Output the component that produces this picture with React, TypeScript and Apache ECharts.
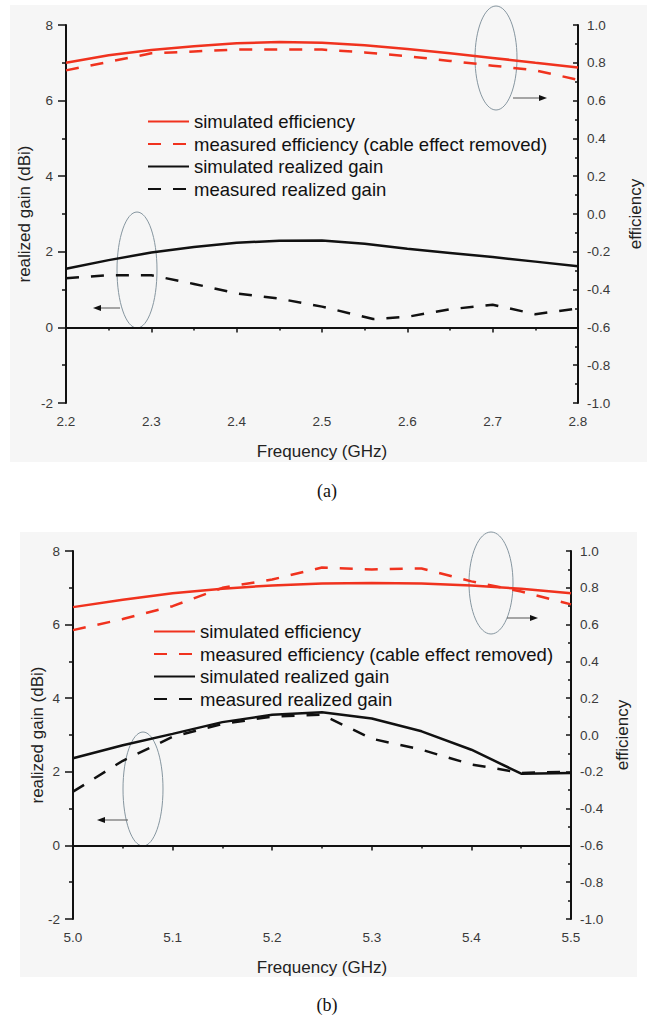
import React, { useEffect, useRef } from "react";
import * as echarts from "echarts";

// ---- data (a) ----
const freqA = [2.2, 2.25, 2.3, 2.35, 2.4, 2.45, 2.5, 2.55, 2.6, 2.65, 2.7, 2.75, 2.8];
const simEffA = [0.8, 0.84, 0.868, 0.888, 0.903, 0.91, 0.906, 0.893, 0.873, 0.85, 0.826, 0.8, 0.775];
const measEffA = [0.76, 0.805, 0.85, 0.86, 0.87, 0.87, 0.87, 0.855, 0.835, 0.81, 0.785, 0.76, 0.71];
const simGainA = [1.55, 1.78, 1.98, 2.13, 2.24, 2.29, 2.3, 2.21, 2.08, 1.97, 1.86, 1.74, 1.62];
const freqMeasGainA = [2.2, 2.25, 2.3, 2.35, 2.4, 2.45, 2.5, 2.56, 2.6, 2.65, 2.7, 2.75, 2.8];
const measGainA = [1.3, 1.38, 1.38, 1.15, 0.9, 0.76, 0.55, 0.22, 0.28, 0.48, 0.6, 0.35, 0.5];

// ---- data (b) ----
const freqB = [5.0, 5.05, 5.1, 5.15, 5.2, 5.25, 5.3, 5.35, 5.4, 5.45, 5.5];
const simEffB = [0.695, 0.735, 0.77, 0.795, 0.813, 0.823, 0.826, 0.824, 0.812, 0.795, 0.77];
const measEffB = [0.57, 0.63, 0.7, 0.8, 0.845, 0.91, 0.9, 0.905, 0.835, 0.78, 0.71];
const simGainB = [2.37, 2.72, 3.03, 3.35, 3.55, 3.62, 3.45, 3.1, 2.6, 1.95, 1.97];
const measGainB = [1.46, 2.3, 2.95, 3.3, 3.5, 3.55, 2.9, 2.6, 2.2, 1.97, 2.0];

const seriesNames = [
  "simulated efficiency",
  "measured efficiency (cable effect removed)",
  "simulated realized gain",
  "measured realized gain",
];
const gainTicks = { min: -2, max: 8, interval: 2 };
const effTicks = { min: -1, max: 1, interval: 0.2 };
const xRangeA = { min: 2.2, max: 2.8, interval: 0.1 };
const xRangeB = { min: 5.0, max: 5.5, interval: 0.1 };

const RED = "#f0321e";
const BLACK = "#111111";
const FONT = "'Liberation Sans', Arial, sans-serif";

const pair = (xs: number[], ys: number[]) => xs.map((x, i) => [x, ys[i]]);
const fmt1 = (v: number) => (Math.abs(v) < 1e-9 ? 0 : v).toFixed(1);

export default function App() {
  const ref = useRef<HTMLDivElement>(null);
  useEffect(() => {
    if (!ref.current) return;
    const chart = echarts.init(ref.current, null, { renderer: "svg" });

    const axisLine = { lineStyle: { color: BLACK, width: 2 } };
    const labelStyle = { fontSize: 13.5, color: "#3a3a3a", fontFamily: FONT };
    const nameStyle = { fontSize: 17, color: "#222", fontFamily: FONT };

    const mkX = (idx: number, r: any) => ({
      type: "value",
      gridIndex: idx,
      min: r.min,
      max: r.max,
      interval: r.interval,
      name: "Frequency (GHz)",
      nameLocation: "middle",
      nameGap: 40,
      nameMoveOverlap: false,
      nameTextStyle: nameStyle,
      axisLine,
      axisTick: { show: true, length: 5, lineStyle: { color: BLACK, width: 1.5 } },
      minorTick: { show: true, splitNumber: 2, length: 3, lineStyle: { color: BLACK, width: 1.5 } },
      axisLabel: { ...labelStyle, margin: 11, formatter: (v: number) => fmt1(v) },
      splitLine: { show: false },
    });
    const mkGain = (idx: number, gap: number) => ({
      type: "value",
      gridIndex: idx,
      position: "left",
      ...gainTicks,
      name: "realized gain (dBi)",
      nameLocation: "middle",
      nameGap: gap,
      nameMoveOverlap: false,
      nameTextStyle: nameStyle,
      axisLine: { ...axisLine, onZero: false },
      axisTick: { show: true, length: 8, lineStyle: { color: BLACK, width: 1.5 } },
      minorTick: { show: true, splitNumber: 2, length: 4, lineStyle: { color: BLACK, width: 1.5 } },
      axisLabel: { ...labelStyle, margin: 13 },
      splitLine: { show: false },
    });
    const mkEff = (idx: number, gap: number) => ({
      type: "value",
      gridIndex: idx,
      position: "right",
      ...effTicks,
      name: "efficiency",
      nameLocation: "middle",
      nameGap: gap,
      nameMoveOverlap: false,
      nameTextStyle: nameStyle,
      axisLine: { ...axisLine, onZero: false },
      axisTick: { show: true, inside: true, length: 5, lineStyle: { color: BLACK, width: 1.5 } },
      minorTick: { show: true, splitNumber: 2, length: 3, lineStyle: { color: BLACK, width: 1.5 } },
      axisLabel: { ...labelStyle, margin: 9, formatter: (v: number) => fmt1(v) },
      splitLine: { show: false },
    });

    const line = (name: string, xi: number, yi: number, data: number[][], color: string, dashed: boolean) => ({
      type: "line",
      name,
      xAxisIndex: xi,
      yAxisIndex: yi,
      data,
      symbol: "none",
      showSymbol: false,
      color,
      lineStyle: { color, width: 2.5, type: dashed ? [13, 12] : "solid" },
      clip: true,
    });

    const legend = (left: number, top: number) => ({
      orient: "vertical",
      left,
      top,
      padding: 0,
      itemWidth: 41,
      itemHeight: 14,
      itemGap: 3.5,
      selectedMode: false,
      data: seriesNames,
      itemStyle: { opacity: 0 },
      textStyle: { fontSize: 18.5, color: "#111", fontFamily: FONT },
    });

    const ellipse = (cx: number, cy: number, rx: number, ry: number) => ({
      type: "ellipse",
      shape: { cx, cy, rx, ry },
      style: { fill: "none", stroke: "#8696a0", lineWidth: 1 },
      silent: true,
    });
    const arrow = (x1: number, x2: number, y: number) => {
      const dir = x2 > x1 ? 1 : -1;
      return [
        { type: "line", shape: { x1, y1: y, x2: x2 - dir * 6, y2: y }, style: { stroke: "#555", lineWidth: 1 }, silent: true },
        {
          type: "polygon",
          shape: { points: [[x2, y], [x2 - dir * 8, y - 3], [x2 - dir * 8, y + 3]] },
          style: { fill: "#111" },
          silent: true,
        },
      ];
    };
    const caption = (text: string, x: number, y: number) => ({
      type: "text",
      x,
      y,
      style: {
        text,
        fontSize: 18,
        fontFamily: "'Liberation Serif', 'Times New Roman', serif",
        fill: "#111",
        textAlign: "center",
        textVerticalAlign: "middle",
      },
    });

    chart.setOption({
      animation: false,
      backgroundColor: "transparent",
      grid: [
        { left: 66, top: 25, width: 512, height: 378 },
        { left: 73, top: 551, width: 498, height: 368 },
      ],
      xAxis: [mkX(0, xRangeA), mkX(1, xRangeB)],
      yAxis: [mkGain(0, 33), mkEff(0, 49), mkGain(1, 27), mkEff(1, 43)],
      legend: [legend(147, 112), legend(153, 622)],
      series: [
        line(seriesNames[0], 0, 1, pair(freqA, simEffA), RED, false),
        line(seriesNames[1], 0, 1, pair(freqA, measEffA), RED, true),
        line(seriesNames[2], 0, 0, pair(freqA, simGainA), BLACK, false),
        line(seriesNames[3], 0, 0, pair(freqMeasGainA, measGainA), BLACK, true),
        line(seriesNames[0], 1, 3, pair(freqB, simEffB), RED, false),
        line(seriesNames[1], 1, 3, pair(freqB, measEffB), RED, true),
        line(seriesNames[2], 1, 2, pair(freqB, simGainB), BLACK, false),
        line(seriesNames[3], 1, 2, pair(freqB, measGainB), BLACK, true),
      ],
      graphic: [
        ellipse(496, 58, 21, 52),
        ...arrow(513, 547, 98),
        ellipse(137, 270, 20, 58),
        ...arrow(120, 93, 308),
        ellipse(491, 583, 22, 51),
        ...arrow(507, 538, 618),
        ellipse(143, 789, 20, 57),
        ...arrow(128, 97, 820),
        caption("(a)", 327, 491),
        caption("(b)", 327, 1005),
      ],
    });
    return () => chart.dispose();
  }, []);

  return (
    <div style={{ position: "absolute", left: 0, top: 0, width: 655, height: 1023, background: "#fff" }}>
      <div style={{ position: "absolute", left: 10, top: 5, width: 637, height: 457, background: "#f6f6f6" }} />
      <div style={{ position: "absolute", left: 20, top: 532, width: 617, height: 445, background: "#f6f6f6" }} />
      <div ref={ref} style={{ position: "absolute", left: 0, top: 0, width: 655, height: 1023 }} />
    </div>
  );
}
